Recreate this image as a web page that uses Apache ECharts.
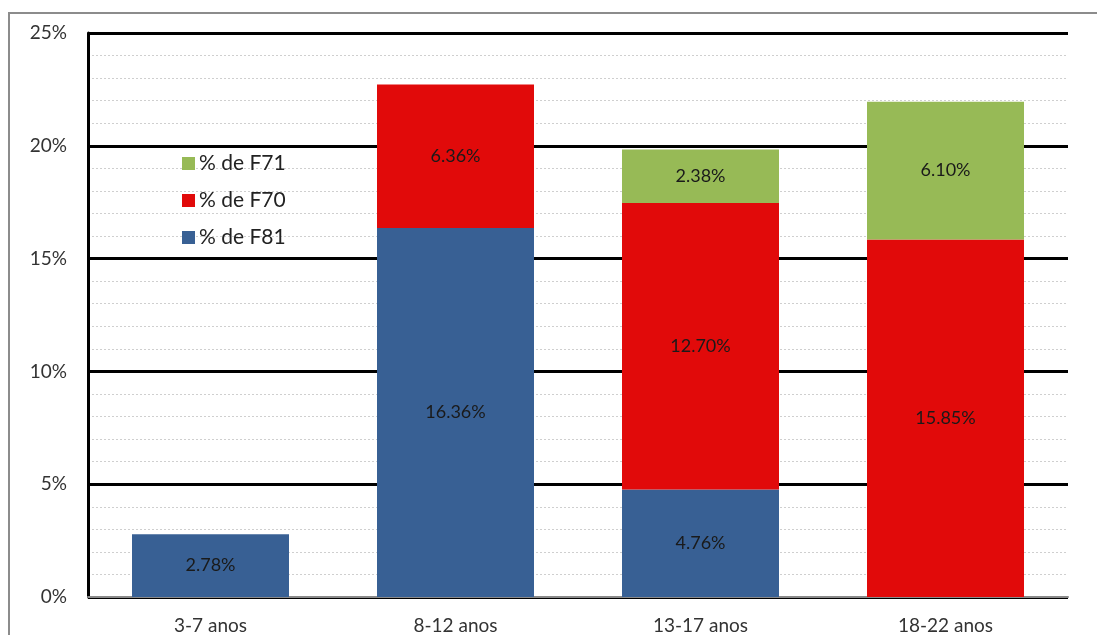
<!DOCTYPE html>
<html>
<head>
<meta charset="utf-8">
<script src="https://cdn.jsdelivr.net/npm/echarts@6/dist/echarts.min.js"></script>
<style>
  html, body { margin: 0; padding: 0; background: #ffffff; }
  #chart { width: 1097px; height: 635px; }
</style>
</head>
<body>
<div id="chart"></div>
<script>
// Age groups on the x axis
const categories = ['3-7 anos', '8-12 anos', '13-17 anos', '18-22 anos'];
// Share of each diagnosis per age group, in percent (null = no segment)
const f81 = [2.78, 16.36, 4.76, null];
const f70 = [null, 6.36, 12.70, 15.85];
const f71 = [null, null, 2.38, 6.10];
const seriesNames = ['% de F81', '% de F70', '% de F71'];
const seriesColors = ['#386094', '#e10a0a', '#97ba56'];

const FONT = 'Lato, "Open Sans", sans-serif';

function stackSeries(name, data, color) {
  return {
    name: name,
    type: 'bar',
    stack: 'total',
    data: data,
    barWidth: 157,
    itemStyle: { color: color },
    label: {
      show: true,
      position: 'inside',
      color: '#1a1a1a',
      fontFamily: FONT,
      fontSize: 18,
      formatter: p => p.value == null ? '' : p.value.toFixed(2) + '%'
    }
  };
}

const chart = echarts.init(document.getElementById('chart'));
chart.setOption({
  animation: false,
  backgroundColor: '#ffffff',
  graphic: [{
    type: 'rect',
    shape: { x: 9, y: 13, width: 1200, height: 700 },
    style: { fill: 'none', stroke: '#8c8c8c', lineWidth: 2 },
    silent: true
  }],
  grid: { left: 88, right: 29, top: 33, bottom: 38, containLabel: false },
  legend: {
    orient: 'vertical',
    left: 177,
    top: 147,
    itemWidth: 13,
    itemHeight: 13,
    itemGap: 14,
    icon: 'rect',
    data: ['% de F71', '% de F70', '% de F81'],
    textStyle: { fontFamily: FONT, fontSize: 21, color: '#222', lineHeight: 23, padding: [0, 0, 0, -1] }
  },
  xAxis: {
    type: 'category',
    data: categories,
    axisLine: { show: true, lineStyle: { color: '#8a8a8a', width: 2 } },
    axisTick: { show: false },
    axisLabel: { fontFamily: FONT, fontSize: 19, color: '#333', margin: 19 }
  },
  yAxis: {
    type: 'value',
    min: 0,
    max: 25,
    interval: 5,
    axisLine: { show: true, lineStyle: { color: '#000', width: 3 } },
    axisTick: { show: false },
    axisLabel: {
      fontFamily: FONT, fontSize: 19, color: '#333', margin: 21,
      formatter: v => v + '%'
    },
    splitLine: { show: true, lineStyle: { color: '#000', width: 3 } },
    minorTick: { show: false, splitNumber: 5 },
    minorSplitLine: { show: true, lineStyle: { color: '#cfcfcf', width: 1, type: [2, 2] } }
  },
  series: [
    stackSeries(seriesNames[0], f81, seriesColors[0]),
    stackSeries(seriesNames[1], f70, seriesColors[1]),
    stackSeries(seriesNames[2], f71, seriesColors[2])
  ]
});
</script>
</body>
</html>
